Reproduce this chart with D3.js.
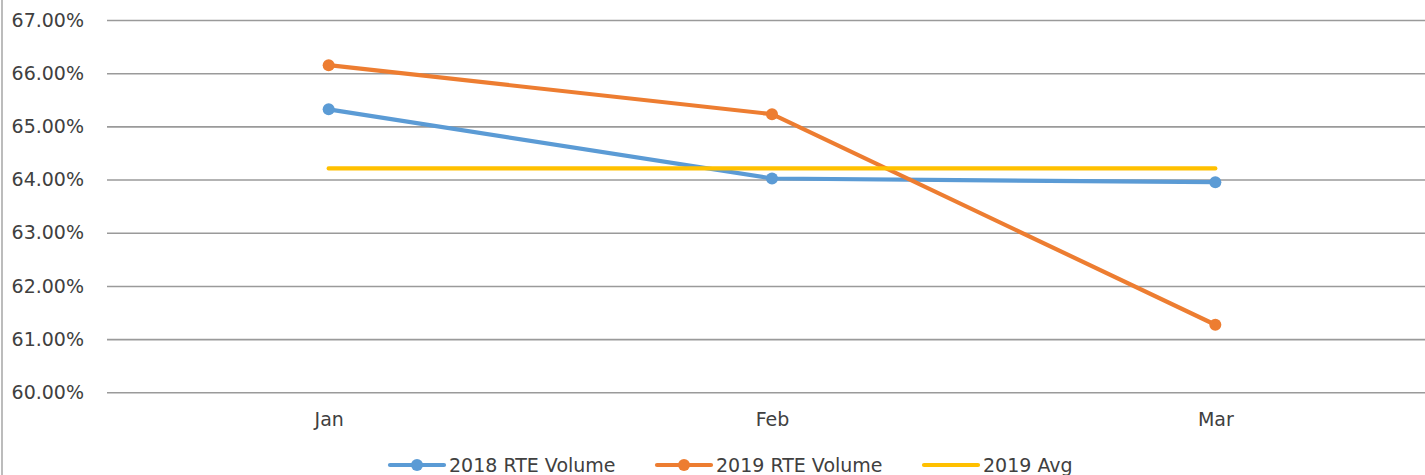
<!DOCTYPE html>
<html>
<head>
<meta charset="utf-8">
<script src="https://cdn.jsdelivr.net/npm/d3@7"></script>
<style>
  html, body { margin: 0; padding: 0; background: #fff; }
  svg { display: block; }
  text { font-family: "DejaVu Sans", sans-serif; fill: #404040; }
</style>
</head>
<body>
<svg id="chart" width="1425" height="475"></svg>
<script>
const categories = ["Jan", "Feb", "Mar"];
const values2018 = [65.32, 64.02, 63.95];
const values2019 = [66.15, 65.23, 61.27];
const avg2019 = [64.21, 64.21, 64.21];
const yTicks = [60, 61, 62, 63, 64, 65, 66, 67];
const seriesNames = ["2018 RTE Volume", "2019 RTE Volume", "2019 Avg"];

const W = 1425, H = 475;
const svg = d3.select("#chart");
const plotLeft = 107, plotRight = 1437, plotTop = 20, plotBottom = 392.3;

const x = d3.scalePoint().domain(categories).range([plotLeft, plotRight]).padding(0.5);
const y = d3.scaleLinear().domain([60, 67]).range([plotBottom, plotTop]);

// outer border (left edge)
svg.append("line").attr("x1", 2).attr("x2", 2).attr("y1", 0).attr("y2", H)
  .attr("stroke", "#a6a6a6").attr("stroke-width", 1.5);

// gridlines
const yAxis = d3.axisLeft(y).tickValues(yTicks).tickSize(-(plotRight - plotLeft))
  .tickFormat(d => d.toFixed(2) + "%").tickPadding(23);
const gy = svg.append("g").attr("transform", `translate(${plotLeft},0)`).call(yAxis);
gy.select(".domain").remove();
gy.selectAll(".tick line").attr("stroke", "#9a9a9a").attr("stroke-width", 1.6);
gy.selectAll(".tick text").attr("font-size", 19).attr("fill", "#404040")
  .style("font-family", '"DejaVu Sans", sans-serif');

// x axis labels
const xAxis = d3.axisBottom(x).tickSize(0).tickPadding(20);
const gx = svg.append("g").attr("transform", `translate(0,${plotBottom})`).call(xAxis);
gx.select(".domain").remove();
gx.selectAll(".tick text").attr("font-size", 19).attr("fill", "#404040")
  .style("font-family", '"DejaVu Sans", sans-serif');

const series = [
  { name: seriesNames[0], values: values2018, color: "#5B9BD5", marker: true },
  { name: seriesNames[1], values: values2019, color: "#ED7D31", marker: true },
  { name: seriesNames[2], values: avg2019, color: "#FFC000", marker: false }
];

const line = d3.line().x((d, i) => x(categories[i])).y(d => y(d));

series.forEach(s => {
  svg.append("path").datum(s.values).attr("d", line)
    .attr("fill", "none").attr("stroke", s.color).attr("stroke-width", 4.2)
    .attr("stroke-linecap", "round").attr("stroke-linejoin", "round");
  if (s.marker) {
    svg.selectAll(null).data(s.values).enter().append("circle")
      .attr("cx", (d, i) => x(categories[i])).attr("cy", d => y(d))
      .attr("r", 6).attr("fill", s.color);
  }
});

// legend
const legendX = [390, 657, 924];
const ly = 465;
series.forEach((s, i) => {
  const g = svg.append("g").attr("transform", `translate(${legendX[i]},${ly})`);
  g.append("line").attr("x1", 0).attr("x2", 54).attr("y1", 0).attr("y2", 0)
    .attr("stroke", s.color).attr("stroke-width", 4.2).attr("stroke-linecap", "round");
  if (s.marker) g.append("circle").attr("cx", 27).attr("cy", 0).attr("r", 6).attr("fill", s.color);
  g.append("text").attr("x", 59).attr("y", 0).attr("dy", "0.36em")
    .attr("font-size", 19).text(s.name);
});
</script>
</body>
</html>
